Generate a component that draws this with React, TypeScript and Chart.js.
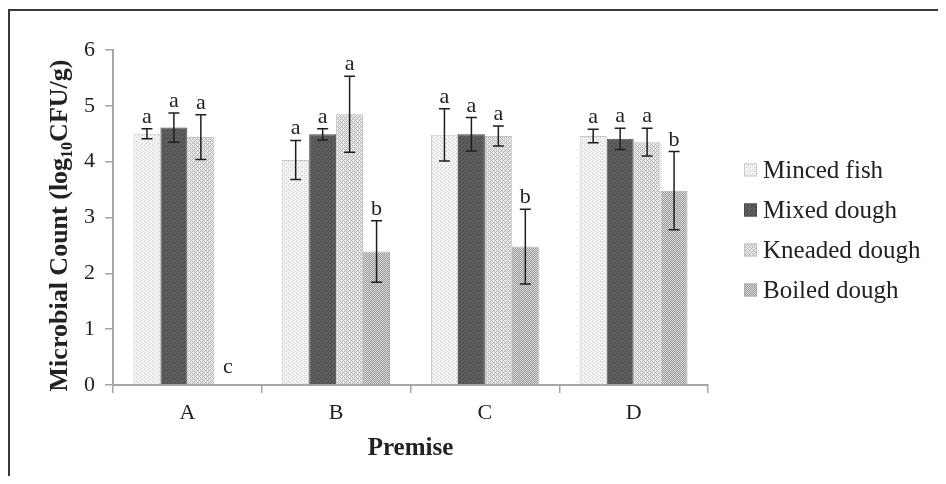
import React, { useEffect, useRef } from "react";
import { Chart, registerables } from "chart.js";

Chart.register(...registerables);

// ---------- data ----------
const premises = ["A", "B", "C", "D"];
const seriesNames = ["Minced fish", "Mixed dough", "Kneaded dough", "Boiled dough"];

const mincedFish = [4.5, 4.03, 4.48, 4.46];
const mixedDough = [4.61, 4.49, 4.49, 4.41];
const kneadedDough = [4.44, 4.85, 4.46, 4.35];
const boiledDough = [0, 2.39, 2.48, 3.48];

const mincedFishErr = [0.09, 0.35, 0.47, 0.12];
const mixedDoughErr = [0.26, 0.1, 0.3, 0.19];
const kneadedDoughErr = [0.4, 0.68, 0.18, 0.25];
const boiledDoughErr = [0, 0.55, 0.67, 0.7];

const mincedFishLetters = ["a", "a", "a", "a"];
const mixedDoughLetters = ["a", "a", "a", "a"];
const kneadedDoughLetters = ["a", "a", "a", "a"];
const boiledDoughLetters = ["c", "b", "b", "b"];

const yMin = 0;
const yMax = 6;
const yStep = 1;

const xTitle = "Premise";
const yTitleMain = "Microbial Count (log";
const yTitleSub = "10";
const yTitleEnd = "CFU/g)";

const SERIF = "'Liberation Serif', 'Times New Roman', serif";

function makePattern(
  ctx: CanvasRenderingContext2D,
  bg: string,
  fg: string,
  size: number,
  dots: number[][]
): CanvasPattern | string {
  const c = document.createElement("canvas");
  c.width = size;
  c.height = size;
  const p = c.getContext("2d");
  if (!p) return bg;
  p.fillStyle = bg;
  p.fillRect(0, 0, size, size);
  p.fillStyle = fg;
  dots.forEach(([x, y]) => p.fillRect(x, y, 1, 1));
  return ctx.createPattern(c, "repeat") || bg;
}

export default function App() {
  const canvasRef = useRef<HTMLCanvasElement | null>(null);

  useEffect(() => {
    const canvas = canvasRef.current;
    if (!canvas) return;
    const ctx = canvas.getContext("2d");
    if (!ctx) return;

    const pMinced = makePattern(ctx, "#f3f3f3", "#c6c6c6", 4, [[0, 0], [2, 2]]);
    const pMixed = makePattern(ctx, "#5e5e5e", "#474747", 4, [[0, 0], [2, 2], [1, 3]]);
    const pKneaded = makePattern(ctx, "#ebebeb", "#b3b3b3", 4, [[0, 0], [1, 1], [2, 2], [3, 3], [0, 2], [2, 0]]);
    const pBoiled = makePattern(ctx, "#dadada", "#999999", 4, [[0, 0], [1, 1], [2, 2], [3, 3], [0, 2], [2, 0], [1, 3], [3, 1]]);

    const values = [mincedFish, mixedDough, kneadedDough, boiledDough];
    const errors = [mincedFishErr, mixedDoughErr, kneadedDoughErr, boiledDoughErr];
    const letters = [mincedFishLetters, mixedDoughLetters, kneadedDoughLetters, boiledDoughLetters];
    const fills = [pMinced, pMixed, pKneaded, pBoiled];
    const borders = ["#c8c8c8", "#4a4a4a", "#c0c0c0", "#ababab"];

    const errorBarPlugin = {
      id: "errorBars",
      afterDatasetsDraw(chart: any) {
        const c = chart.ctx;
        const ys = chart.scales.y;
        c.save();
        chart.data.datasets.forEach((ds: any, i: number) => {
          const meta = chart.getDatasetMeta(i);
          meta.data.forEach((bar: any, j: number) => {
            const v = values[i][j];
            const e = errors[i][j];
            const x = bar.x;
            const yTop = ys.getPixelForValue(v + e);
            const yBot = ys.getPixelForValue(v - e);
            if (e > 0) {
              c.strokeStyle = "#1e1e1e";
              c.lineWidth = 1.5;
              c.beginPath();
              c.moveTo(x, yTop);
              c.lineTo(x, yBot);
              c.moveTo(x - 5.5, yTop);
              c.lineTo(x + 5.5, yTop);
              c.moveTo(x - 5.5, yBot);
              c.lineTo(x + 5.5, yBot);
              c.stroke();
            }
            const lbl = letters[i][j];
            if (lbl) {
              c.fillStyle = "#222";
              c.font = `22px ${SERIF}`;
              c.textAlign = "center";
              c.textBaseline = "alphabetic";
              c.fillText(lbl, x, (e > 0 ? yTop : yBot - 6) - 6);
            }
          });
        });
        c.restore();
      },
    };

    const decorPlugin = {
      id: "decor",
      afterDraw(chart: any) {
        const c = chart.ctx;
        const area = chart.chartArea;
        c.save();
        // Y axis title with subscript
        c.fillStyle = "#222";
        c.translate(48, (area.top + area.bottom) / 2 + 8);
        c.rotate(-Math.PI / 2);
        const fMain = `bold 26px ${SERIF}`;
        const fSub = `bold 16px ${SERIF}`;
        c.font = fMain;
        const w1 = c.measureText(yTitleMain).width;
        const w3 = c.measureText(yTitleEnd).width;
        c.font = fSub;
        const w2 = c.measureText(yTitleSub).width;
        const total = w1 + w2 + w3;
        let x = -total / 2;
        c.textBaseline = "alphabetic";
        c.textAlign = "left";
        c.font = fMain;
        c.fillText(yTitleMain, x, 9);
        x += w1;
        c.font = fSub;
        c.fillText(yTitleSub, x, 14);
        x += w2;
        c.font = fMain;
        c.fillText(yTitleEnd, x, 9);
        c.restore();

        // Legend
        c.save();
        chart.data.datasets.forEach((ds: any, i: number) => {
          const ly = 159 + i * 40;
          c.fillStyle = ds.backgroundColor;
          c.fillRect(734, ly - 6.5, 13, 13);
          c.strokeStyle = ds.borderColor;
          c.lineWidth = 1;
          c.strokeRect(734.5, ly - 6, 12, 12);
          c.fillStyle = "#222";
          c.font = `25px ${SERIF}`;
          c.textAlign = "left";
          c.textBaseline = "middle";
          c.fillText(ds.label, 753, ly + 1);
        });
        c.restore();
      },
    };

    const chart = new Chart(ctx, {
      type: "bar",
      data: {
        labels: premises,
        datasets: seriesNames.map((name, i) => ({
          label: name,
          data: values[i],
          backgroundColor: fills[i] as any,
          borderColor: borders[i],
          borderWidth: 1,
          categoryPercentage: 0.725,
          barPercentage: 1.0,
        })),
      },
      options: {
        responsive: false,
        animation: false,
        devicePixelRatio: 1,
        layout: { padding: { left: 10, right: 230, top: 39, bottom: 0 } },
        plugins: {
          legend: { display: false },
          tooltip: { enabled: false },
        },
        scales: {
          x: {
            afterFit(scale: any) {
              scale.height = 91;
            },
            grid: {
              display: true,
              offset: true,
              drawOnChartArea: false,
              drawTicks: true,
              tickLength: 8,
              color: "#a6a6a6",
              lineWidth: 1.5,
            },
            border: { display: true, color: "#a6a6a6", width: 2 },
            ticks: {
              color: "#222",
              font: { family: SERIF, size: 22 },
              padding: 7,
            },
            title: {
              display: true,
              text: xTitle,
              color: "#222",
              font: { family: SERIF, size: 25, weight: "bold" },
              padding: { top: 4, bottom: 12 },
            },
          },
          y: {
            min: yMin,
            max: yMax,
            afterFit(scale: any) {
              scale.width = 93;
            },
            grid: {
              display: true,
              drawOnChartArea: false,
              drawTicks: true,
              tickLength: 8,
              color: "#a6a6a6",
              lineWidth: 1.5,
            },
            border: { display: true, color: "#a6a6a6", width: 2 },
            ticks: {
              stepSize: yStep,
              color: "#222",
              font: { family: SERIF, size: 22 },
              padding: 10,
            },
          },
        },
      },
      plugins: [errorBarPlugin, decorPlugin],
    });

    return () => chart.destroy();
  }, []);

  return (
    <div
      style={{
        position: "relative",
        width: 930,
        height: 468,
        overflow: "hidden",
        background: "#fff",
      }}
    >
      <div
        style={{
          position: "absolute",
          left: 0,
          top: 1,
          width: 960,
          height: 500,
          borderTop: "2px solid #3a3a3a",
          borderLeft: "2px solid #3a3a3a",
          boxSizing: "border-box",
        }}
      />
      <canvas
        ref={canvasRef}
        width={928}
        height={465}
        style={{ position: "absolute", left: 2, top: 3, display: "block" }}
      />
    </div>
  );
}
